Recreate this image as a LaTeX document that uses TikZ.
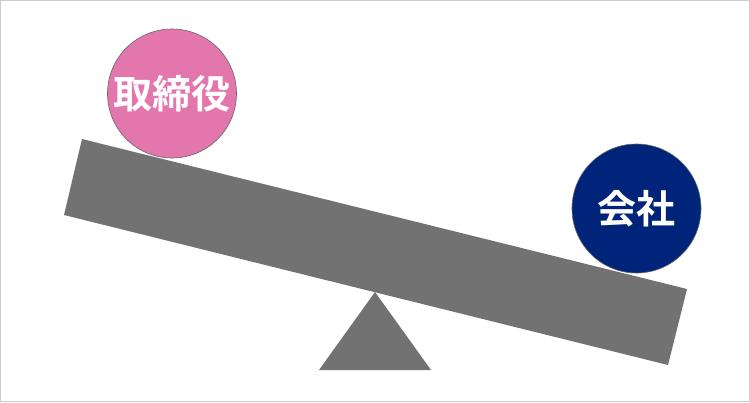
\documentclass[tikz,border=0pt]{standalone}
\usepackage{fontspec}
\newfontfamily\jpfont{Noto Sans CJK JP}[BoldFont={* Bold}]
\definecolor{beam}{HTML}{727272}
\definecolor{pinkc}{HTML}{E377AD}
\definecolor{navyc}{HTML}{00247A}
\definecolor{frame}{HTML}{CCCCCC}
\tikzset{
  part/.style={fill=beam, draw=none},
  weight/.style={circle, draw=gray!80!black, line width=0.6pt, minimum size=129pt, inner sep=0pt,
    text=white, font=\jpfont\bfseries\fontsize{39}{39}\selectfont}
}
\begin{document}
\begin{tikzpicture}[x=1pt,y=-1pt]
\useasboundingbox (0,0) rectangle (750,402);
\draw[frame, line width=1.2pt] (0.6,0.6) rectangle (749.4,401.4);
% plank
\fill[beam] (82,139) -- (687,289) -- (668,365) -- (64,215) -- cycle;
% fulcrum
\fill[beam] (375,292) -- (431,370) -- (319,370) -- cycle;
% weights
\node[weight, fill=pinkc] (director) at (172,93.5) {取締役};
\node[weight, fill=navyc] (company) at (636.5,208.5) {会社};
\end{tikzpicture}
\end{document}
